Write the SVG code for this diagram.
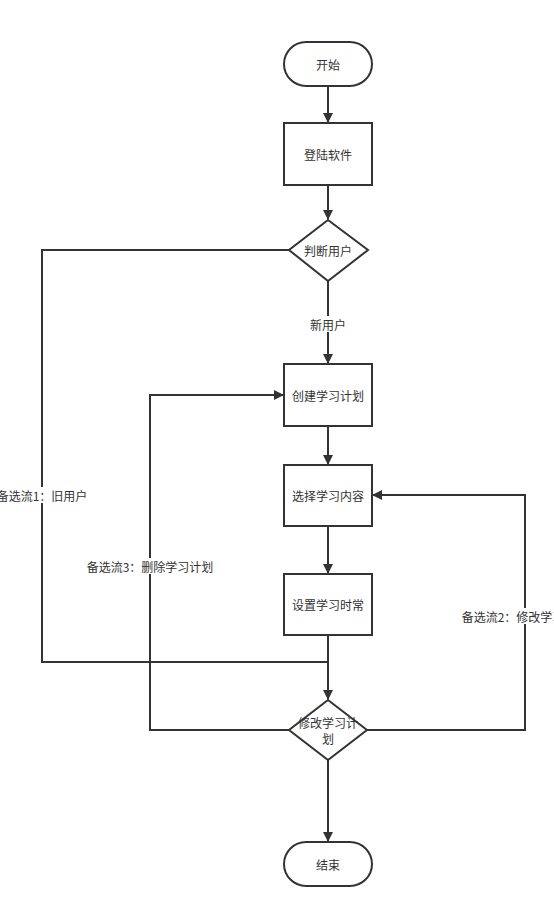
<svg xmlns="http://www.w3.org/2000/svg" width="554" height="914" viewBox="0 0 554 914">
<style>
.n{fill:#fff;stroke:#333;stroke-width:2}
.t{font-family:"Noto Sans CJK SC","Liberation Sans",sans-serif;font-size:12px;fill:#333;text-anchor:middle;dominant-baseline:central}
.c{fill:none;stroke:#333;stroke-width:2}
.lb{fill:#fff}
</style>
<defs>
<marker id="a" viewBox="0 0 10 10" refX="9" refY="5" markerWidth="10" markerHeight="10" markerUnits="userSpaceOnUse" orient="auto">
<path d="M0,0 L10,5 L0,10 Z" fill="#333"/>
</marker>
</defs>
<rect width="554" height="914" fill="#fff"/>
<g id="connectors">
<path class="c" d="M328,86 V122" marker-end="url(#a)"/>
<path class="c" d="M328,185 V219" marker-end="url(#a)"/>
<path class="c" d="M289,250 H42 V662 H328"/>
<path class="c" d="M328,281 V363" marker-end="url(#a)"/>
<path class="c" d="M328,426 V464" marker-end="url(#a)"/>
<path class="c" d="M328,526 V573" marker-end="url(#a)"/>
<path class="c" d="M328,635 V699" marker-end="url(#a)"/>
<path class="c" d="M289,730 H150 V395 H283" marker-end="url(#a)"/>
<path class="c" d="M367,730 H525 V495 H373" marker-end="url(#a)"/>
<path class="c" d="M328,760 V841" marker-end="url(#a)"/>
<rect class="lb" x="308" y="316" width="40" height="16"/>
<text class="t" x="328" y="324">新用户</text>
<rect class="lb" x="-4" y="487" width="92" height="16"/>
<text class="t" x="42" y="495">备选流1：旧用户</text>
<rect class="lb" x="88" y="558" width="124" height="16"/>
<text class="t" x="150" y="566">备选流3：删除学习计划</text>
<rect class="lb" x="463" y="608" width="124" height="16"/>
<text class="t" x="525" y="616">备选流2：修改学习内容</text>
</g>
<g id="start"><rect class="n" x="284" y="42" width="88" height="44" rx="22"/><text class="t" x="328" y="64">开始</text></g>
<g id="login"><rect class="n" x="284" y="123" width="88" height="62"/><text class="t" x="328" y="154">登陆软件</text></g>
<g id="judge"><path class="n" d="M328,220 L368,250 L328,281 L289,250 Z"/><text class="t" x="328" y="250">判断用户</text></g>
<g id="create"><rect class="n" x="284" y="364" width="88" height="62"/><text class="t" x="328" y="395">创建学习计划</text></g>
<g id="select"><rect class="n" x="284" y="465" width="88" height="61"/><text class="t" x="328" y="495">选择学习内容</text></g>
<g id="settime"><rect class="n" x="284" y="574" width="88" height="61"/><text class="t" x="328" y="604">设置学习时常</text></g>
<g id="modify"><path class="n" d="M328,700 L367,730 L328,760 L289,730 Z"/><text class="t" x="328" y="722">修改学习计</text><text class="t" x="328" y="738">划</text></g>
<g id="end"><rect class="n" x="284" y="842" width="88" height="44" rx="22"/><text class="t" x="328" y="864">结束</text></g>
</svg>
